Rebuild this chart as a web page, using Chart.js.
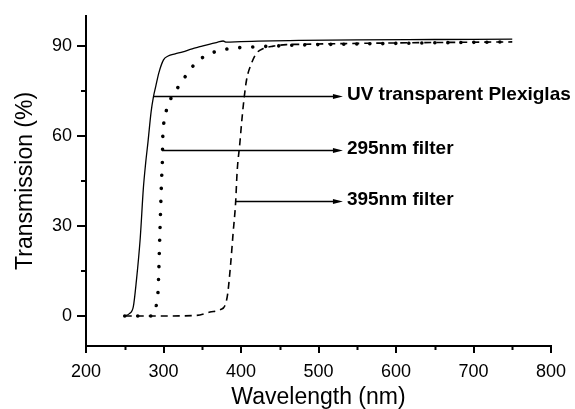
<!DOCTYPE html>
<html>
<head>
<meta charset="utf-8">
<script src="https://cdn.jsdelivr.net/npm/chart.js@4"></script>
<style>
    body { margin: 0; background: #fff; }
    #chart { display: block; }
</style>
</head>
<body>
<canvas id="chart" width="575" height="409"></canvas>
<script>
// transmission curves
const plexiX = [250, 256, 261, 265, 270, 274, 277, 280, 284, 287, 290, 294, 300, 306, 315, 325, 337, 347, 360, 370, 377, 381, 400, 476, 550, 650, 750];
const plexiY = [0, 0.8, 3, 11.7, 26, 42.5, 51, 58, 68, 73, 76.5, 81, 85.3, 86.6, 87.3, 88, 89, 89.7, 90.6, 91.2, 91.6, 91.2, 91.4, 91.8, 92, 92.1, 92.2];

const f295X = [250, 268, 285, 291, 293, 295.5, 297.6, 298.5, 299, 300, 303, 308, 318, 329, 341, 355, 372, 389, 406, 423, 440, 480, 550, 650, 750];
const f295Y = [0, 0, 0, 4, 8.5, 29, 46, 51, 59, 63.3, 67.7, 71.6, 75.9, 80.1, 84.1, 86.8, 88.4, 89.2, 89.5, 89.7, 89.9, 90.3, 90.6, 91, 91.3];

const f395X = [250, 300, 343, 360, 373, 379.4, 382.8, 386.6, 390, 393, 395, 398.6, 400.8, 403.8, 407.2, 413.6, 420, 428.8, 441.5, 458.8, 476, 550, 650, 750];
const f395Y = [0, 0, 0.2, 1.3, 2.1, 3.5, 7.4, 17.2, 28.2, 37.5, 48, 57.8, 64.4, 72.1, 78.7, 84.2, 87.5, 89.1, 89.9, 90.4, 90.5, 90.8, 91.1, 91.3];

const xTicks = [200, 300, 400, 500, 600, 700, 800];
const xMinor = [250, 350, 450, 550, 650, 750];
const yTicks = [0, 30, 60, 90];
const yMinor = [15, 45, 75];

// arrow labels
const noteText = ["UV transparent Plexiglas", "295nm filter", "395nm filter"];
const noteY = [73.2, 55.3, 38.3];
const noteFrom = [286.8, 298.5, 393.5];
const noteTo = [531.5, 531.5, 531.5];

const FONT = 'Arial, "Liberation Sans", sans-serif';

const toPoints = (xs, ys) => xs.map((v, i) => ({ x: v, y: ys[i] }));

const notes = {
    id: "notes",
    afterDraw(chart) {
        const { ctx, scales: { x, y } } = chart;
        ctx.save();
        ctx.strokeStyle = "#000";
        ctx.fillStyle = "#000";

        // minor ticks
        ctx.lineWidth = 2;
        ctx.beginPath();
        xMinor.forEach(v => {
            const px = Math.round(x.getPixelForValue(v)) + 0.5;
            ctx.moveTo(px, x.top);
            ctx.lineTo(px, x.top + 4);
        });
        yMinor.forEach(v => {
            const py = Math.round(y.getPixelForValue(v));
            ctx.moveTo(y.right, py);
            ctx.lineTo(y.right - 5, py);
        });
        ctx.stroke();

        // arrows + labels
        ctx.font = "bold 19px " + FONT;
        ctx.textBaseline = "middle";
        ctx.textAlign = "left";
        noteText.forEach((t, i) => {
            const py = Math.round(y.getPixelForValue(noteY[i])) + 0.5;
            const x0 = x.getPixelForValue(noteFrom[i]);
            const x1 = x.getPixelForValue(noteTo[i]);
            ctx.lineWidth = 1.3;
            ctx.beginPath();
            ctx.moveTo(x0, py);
            ctx.lineTo(x1 - 6, py);
            ctx.stroke();
            ctx.beginPath();
            ctx.moveTo(x1, py);
            ctx.lineTo(x1 - 10, py - 2.6);
            ctx.lineTo(x1 - 10, py + 2.6);
            ctx.closePath();
            ctx.fill();
            ctx.fillText(t, x1 + 4, py - 2);
        });
        ctx.restore();
    }
};

new Chart(document.getElementById("chart").getContext("2d"), {
    type: "scatter",
    data: {
        datasets: [
            {
                label: "UV transparent Plexiglas",
                data: toPoints(plexiX, plexiY),
                showLine: true,
                borderColor: "#000",
                borderWidth: 1.3,
                pointRadius: 0,
                cubicInterpolationMode: "monotone"
            },
            {
                label: "295nm filter",
                data: toPoints(f295X, f295Y),
                showLine: true,
                borderColor: "#000",
                borderWidth: 3.6,
                borderDash: [0.01, 13],
                borderCapStyle: "round",
                pointRadius: 0,
                cubicInterpolationMode: "monotone"
            },
            {
                label: "395nm filter",
                data: toPoints(f395X, f395Y),
                showLine: true,
                borderColor: "#000",
                borderWidth: 1.6,
                borderDash: [7, 5],
                pointRadius: 0,
                cubicInterpolationMode: "monotone"
            }
        ]
    },
    options: {
        responsive: false,
        animation: false,
        devicePixelRatio: 1,
        layout: { padding: { top: 13, right: 24, left: 0, bottom: 0 } },
        plugins: {
            legend: { display: false },
            tooltip: { enabled: false }
        },
        scales: {
            x: {
                type: "linear",
                min: 200,
                max: 800,
                afterBuildTicks: s => { s.ticks = xTicks.map(v => ({ value: v })); },
                afterFit: s => { s.height = 63; },
                border: { color: "#000", width: 2 },
                grid: { drawOnChartArea: false, color: "#000", lineWidth: 2, tickLength: 7 },
                ticks: { color: "#000", padding: 8, font: { family: FONT, size: 18 } },
                title: {
                    display: true,
                    text: "Wavelength (nm)",
                    color: "#000",
                    font: { family: FONT, size: 23, lineHeight: 1 },
                    padding: { top: 0, bottom: 0 }
                }
            },
            y: {
                min: -10,
                max: 100,
                afterBuildTicks: s => { s.ticks = yTicks.map(v => ({ value: v })); },
                afterFit: s => { s.width = 86; },
                border: { color: "#000", width: 2 },
                grid: { drawOnChartArea: false, color: "#000", lineWidth: 2, tickLength: 9 },
                ticks: { color: "#000", padding: 5, font: { family: FONT, size: 18 } },
                title: {
                    display: true,
                    text: "Transmission (%)",
                    color: "#000",
                    font: { family: FONT, size: 23, lineHeight: 1.2 },
                    padding: { top: 12, bottom: 0 }
                }
            }
        }
    },
    plugins: [notes]
});
</script>
</body>
</html>
